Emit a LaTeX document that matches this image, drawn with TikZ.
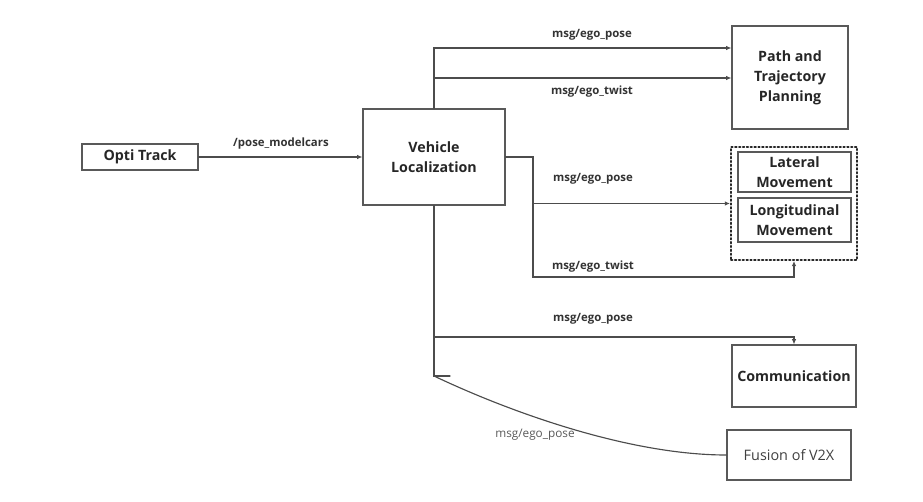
\documentclass[tikz,border=0pt]{standalone}
\usepackage{fontspec}
\setmainfont{Open Sans}
\usetikzlibrary{arrows.meta}
\usetikzlibrary{calc}

\tikzset{
    box/.style={draw=black!65, line width=0.65pt, align=center, inner sep=0pt,
        font=\fontsize{8.1}{11.3}\selectfont\bfseries, text=black!85},
    plainbox/.style={box, font=\fontsize{8.2}{10.6}\selectfont, text=black!75},
    lbl/.style={font=\fontsize{6.5}{8}\selectfont\bfseries, text=black!80, inner sep=1pt},
    flow/.style={draw=black!70, line width=0.65pt},
    arrow/.style={flow, -{Latex[length=3pt, width=2.6pt]}}
}

\begin{document}
\begin{tikzpicture}[x=0.02cm, y=-0.02cm, line cap=round]
    % picture frame in pixels of the reference
    \useasboundingbox (0,0) rectangle (923,501);

    % blocks
    \node[box, minimum width=116*0.02cm, minimum height=26*0.02cm] (opti) at (140,157) {Opti Track};
    \node[box, minimum width=142*0.02cm, minimum height=96*0.02cm] (vloc) at (434,157) {Vehicle\\Localization};
    \node[box, minimum width=116*0.02cm, minimum height=103*0.02cm] (path) at (790,77.5) {Path and\\Trajectory\\Planning};
    \node[draw=black!85, line width=1.1pt, dash pattern=on 0.8pt off 1.4pt, minimum width=126*0.02cm, minimum height=113*0.02cm] (ctrl) at (794,203.5) {};
    \node[box, minimum width=113*0.02cm, minimum height=40*0.02cm] (lat) at (794.5,172) {Lateral\\Movement};
    \node[box, minimum width=113*0.02cm, minimum height=44*0.02cm] (lon) at (794.5,220) {Longitudinal\\Movement};
    \node[box, minimum width=124*0.02cm, minimum height=62*0.02cm] (comm) at (794,376) {Communication};
    \node[plainbox, minimum width=124*0.02cm, minimum height=50*0.02cm] (fusion) at (789,455) {Fusion of V2X};

    % junction points
    \coordinate (p1) at (434,48);
    \coordinate (p2) at (434,78);
    \coordinate (j1) at (533,277);
    \coordinate (j2) at (434,376);
    \coordinate (j3) at (434,337);

    % connectors
    \draw[arrow] (opti.east) -- (vloc.west);
    \draw[arrow] (vloc.north) -- (p1) -- (path.west |- p1);
    \draw[arrow] (p2) -- (path.west |- p2);
    \draw[arrow] (vloc.east) -| (j1) -| (ctrl.south);
    \draw[arrow] (j1 |- ctrl.west) -- (ctrl.west);
    \draw[flow] (vloc.south) -- (j2) -- ++(16,0);
    \draw[arrow] (j3) -| (comm.north);
    \draw[flow] (j2) .. controls (512,413) and (630,455) .. (fusion.west);

    % labels
    \node[lbl] (l1) at (281,144) {/pose\_modelcars};
    \node[lbl] (l2) at (592,35) {msg/ego\_pose};
    \node[lbl] (l3) at (592,92) {msg/ego\_twist};
    \node[lbl] (l4) at (593,179) {msg/ego\_pose};
    \node[lbl] (l5) at (593,267) {msg/ego\_twist};
    \node[lbl] (l6) at (593,319) {msg/ego\_pose};
    \node[lbl, font=\fontsize{6.7}{8}\selectfont, text=black!65] (l7) at (535,435) {msg/ego\_pose};
\end{tikzpicture}
\end{document}
